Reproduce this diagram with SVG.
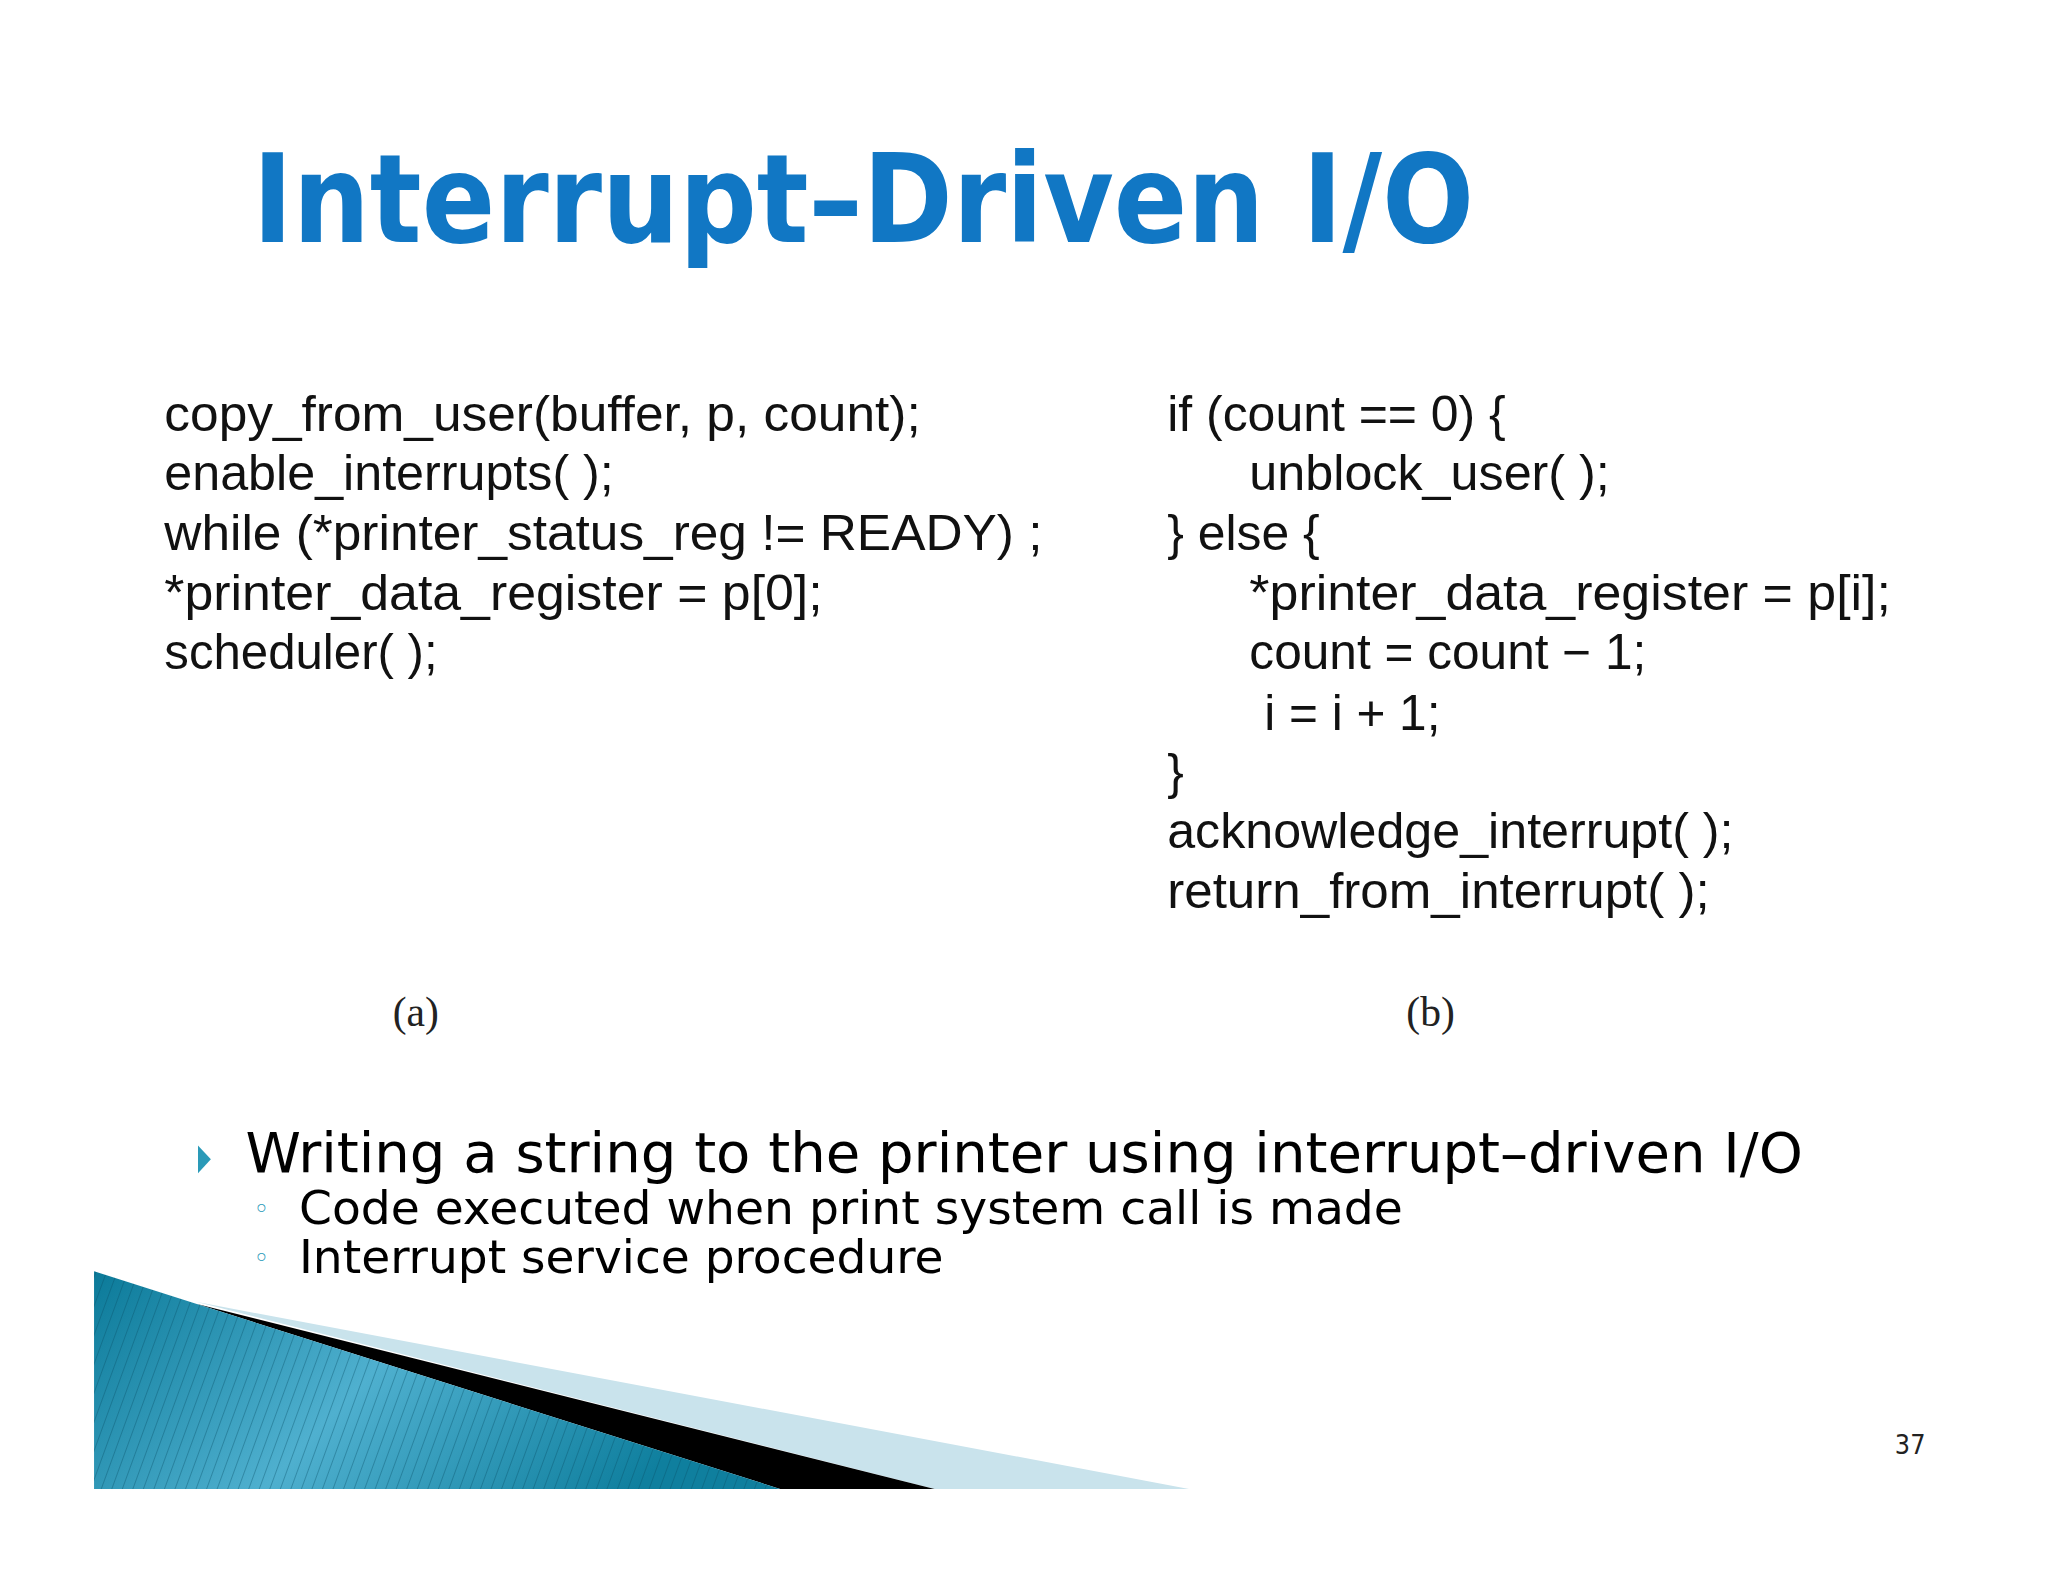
<svg xmlns="http://www.w3.org/2000/svg" width="2048" height="1582" viewBox="0 0 2048 1582">
<defs>
<style>
.code{font-family:"Liberation Sans Narrow","Liberation Sans",Arial,sans-serif;font-size:50px;fill:#111}
.cap{font-family:"Liberation Serif",serif;font-size:42px;fill:#222}
.bul{font-family:"DejaVu Sans Condensed","DejaVu Sans",sans-serif;fill:#000}
</style>
<linearGradient id="bl" x1="0" y1="0" x2="1" y2="0.3">
<stop offset="0" stop-color="#0b7a99"/><stop offset="0.5" stop-color="#4fb0cf"/><stop offset="1" stop-color="#0f7f9e"/>
</linearGradient>
<pattern id="st" width="10" height="10" patternUnits="userSpaceOnUse" patternTransform="rotate(20)">
<line x1="0" y1="0" x2="0" y2="10" stroke="#064e66" stroke-width="1.5" opacity="0.5"/>
</pattern>
</defs>
<rect width="2048" height="1582" fill="#fff"/>
<g transform="scale(0.99)">
<g id="decor">
<polygon points="198,1315 1201,1504 944,1504" fill="#c9e3ec"/>
<polygon points="198,1317 944,1504 788,1504" fill="#000"/>
<polygon points="95,1284 198,1317 788,1504 95,1504" fill="url(#bl)"/>
<polygon points="95,1284 198,1317 788,1504 95,1504" fill="url(#st)"/>
</g>
<g id="title">
<text x="255" y="244" font-family="DejaVu Sans Condensed,DejaVu Sans,sans-serif" font-size="124" font-weight="bold" fill="#1177c4" textLength="1234" lengthAdjust="spacingAndGlyphs">Interrupt–Driven I/O</text>
</g>
<g id="code-a">
<text class="code" x="166" y="435" textLength="764" lengthAdjust="spacingAndGlyphs">copy_from_user(buffer, p, count);</text>
<text class="code" x="166" y="495" textLength="454" lengthAdjust="spacingAndGlyphs">enable_interrupts( );</text>
<text class="code" x="166" y="556" textLength="887" lengthAdjust="spacingAndGlyphs">while (*printer_status_reg != READY) ;</text>
<text class="code" x="166" y="616" textLength="665" lengthAdjust="spacingAndGlyphs">*printer_data_register = p[0];</text>
<text class="code" x="166" y="676" textLength="276" lengthAdjust="spacingAndGlyphs">scheduler( );</text>
<text class="cap" x="420" y="1036" text-anchor="middle">(a)</text>
</g>
<g id="code-b">
<text class="code" x="1179" y="435" textLength="342" lengthAdjust="spacingAndGlyphs">if (count == 0) {</text>
<text class="code" x="1262" y="495" textLength="364" lengthAdjust="spacingAndGlyphs">unblock_user( );</text>
<text class="code" x="1179" y="556" textLength="154" lengthAdjust="spacingAndGlyphs">} else {</text>
<text class="code" x="1262" y="616" textLength="648" lengthAdjust="spacingAndGlyphs">*printer_data_register = p[i];</text>
<text class="code" x="1262" y="676" textLength="401" lengthAdjust="spacingAndGlyphs">count = count − 1;</text>
<text class="code" x="1277" y="737" textLength="178" lengthAdjust="spacingAndGlyphs">i = i + 1;</text>
<text class="code" x="1179" y="797">}</text>
<text class="code" x="1179" y="857" textLength="572" lengthAdjust="spacingAndGlyphs">acknowledge_interrupt( );</text>
<text class="code" x="1179" y="917" textLength="548" lengthAdjust="spacingAndGlyphs">return_from_interrupt( );</text>
<text class="cap" x="1445" y="1036" text-anchor="middle">(b)</text>
</g>
<g id="bullets">
<polygon points="200,1157 213,1171 200,1185" fill="#2a9ab8"/>
<text class="bul" x="248" y="1184" font-size="56" textLength="1573" lengthAdjust="spacingAndGlyphs">Writing a string to the printer using interrupt–driven I/O</text>
<text class="bul" x="256" y="1231" font-size="30" style="fill:#2a9ab8">◦</text>
<text class="bul" x="302" y="1236" font-size="46" textLength="1115" lengthAdjust="spacingAndGlyphs">Code executed when print system call is made</text>
<text class="bul" x="256" y="1281" font-size="30" style="fill:#2a9ab8">◦</text>
<text class="bul" x="302" y="1286" font-size="46" textLength="651" lengthAdjust="spacingAndGlyphs">Interrupt service procedure</text>
</g>
<text x="1914" y="1469" font-family="DejaVu Sans Condensed,DejaVu Sans,sans-serif" font-size="27" fill="#222">37</text>
</g>
</svg>
